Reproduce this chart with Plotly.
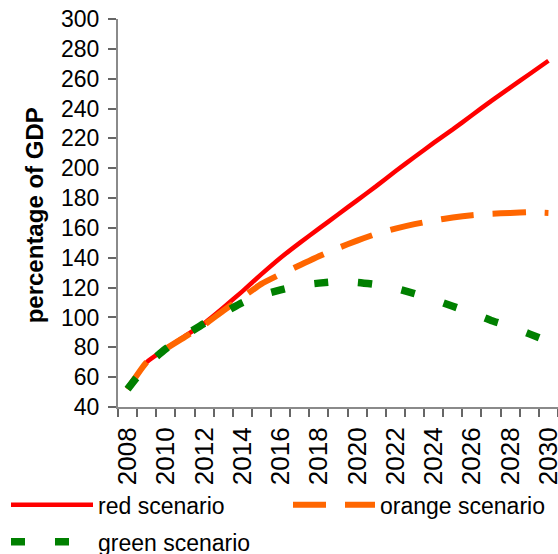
import plotly.graph_objects as go

years = list(range(2008, 2031))
red_scenario = [52, 70, 79, 87.5, 96, 106.5, 117.5, 129, 140, 150, 159.5, 169, 178.5, 188,
                198, 207.5, 217, 226, 235.5, 245, 254, 263, 272]
orange_scenario = [52, 70, 79, 87, 95, 104.5, 113.5, 122.5, 129, 135, 141, 146.5, 151.5, 156,
                   159.5, 162.5, 165, 167, 168.5, 169.5, 170, 170.5, 170]
green_scenario = [52, 68, 79, 88, 96, 103, 110, 115, 118.5, 121.5, 123, 124, 123.5, 122,
                  119.5, 116, 112, 107.5, 103, 98, 94, 89, 84]
series_names = ["red scenario", "orange scenario", "green scenario"]
y_ticks = list(range(40, 301, 20))
x_labels = list(range(2008, 2031, 2))
y_title = "percentage of GDP"

FONT = "Liberation Sans, Arial, sans-serif"
AXIS_COLOR = "#8a8a8a"
TICK_COLOR = "#666666"

fig = go.Figure()
fig.add_trace(go.Scatter(x=years, y=red_scenario, name=series_names[0], mode="lines",
                         legend="legend", legendgroup="r",
                         line=dict(color="#ff0000", width=4.5, shape="spline", smoothing=0.5)))
fig.add_trace(go.Scatter(x=years, y=orange_scenario, name=series_names[1], mode="lines",
                         legend="legend2", legendgroup="o",
                         line=dict(color="#ff6600", width=6, dash="33px,19px",
                                   shape="spline", smoothing=0.5)))
fig.add_trace(go.Scatter(x=years, y=green_scenario, name=series_names[2], mode="lines",
                         legend="legend", legendgroup="g",
                         line=dict(color="#008000", width=7.5, dash="14px,30px",
                                   shape="spline", smoothing=0.5)))

legend_common = dict(orientation="v", xref="container", yref="container",
                     xanchor="left", yanchor="top", itemwidth=82,
                     font=dict(size=23, family=FONT, color="black"),
                     tracegroupgap=4, bgcolor="rgba(0,0,0,0)",
                     itemclick=False, itemdoubleclick=False)

fig.update_layout(
    width=558, height=554,
    margin=dict(l=118, r=0, t=19, b=147, autoexpand=False),
    paper_bgcolor="white", plot_bgcolor="white",
    font=dict(family=FONT, color="black"),
    showlegend=True,
    legend=dict(x=6 / 558, y=0.1276, **legend_common),
    legend2=dict(x=288 / 558, y=0.1276, **legend_common),
    xaxis=dict(range=[2007.5, 2030.5], tickmode="array", tickvals=x_labels,
               ticktext=[str(v) for v in x_labels], tickangle=-90, automargin=False,
               ticklabeloverflow="allow",
               ticks="outside", ticklen=8, tickcolor="rgba(0,0,0,0)",
               tickfont=dict(size=26, family=FONT, color="black"),
               showgrid=False, zeroline=False, showline=True,
               linecolor=AXIS_COLOR, linewidth=2,
               minor=dict(tickmode="linear", tick0=2007.5, dtick=1, ticks="outside",
                          ticklen=8, tickcolor=TICK_COLOR, tickwidth=1.5, showgrid=False)),
    yaxis=dict(range=[40, 300], tickmode="array", tickvals=y_ticks, automargin=False,
               ticks="outside", ticklen=8, tickcolor=TICK_COLOR, tickwidth=1.5,
               ticklabelstandoff=4, ticklabeloverflow="allow",
               tickfont=dict(size=23, family=FONT, color="black"),
               showgrid=False, zeroline=False, showline=True,
               linecolor=AXIS_COLOR, linewidth=2),
    annotations=[dict(text="<b>" + y_title + "</b>", textangle=-90,
                      xref="paper", yref="paper", x=(34 - 118) / 440, y=0.494,
                      xanchor="center", yanchor="middle", showarrow=False,
                      font=dict(size=24, family=FONT, color="black"))],
)

fig.write_html("out.html", config={"displayModeBar": False},
               post_script="document.body.style.margin='0';document.body.style.padding='0';")
